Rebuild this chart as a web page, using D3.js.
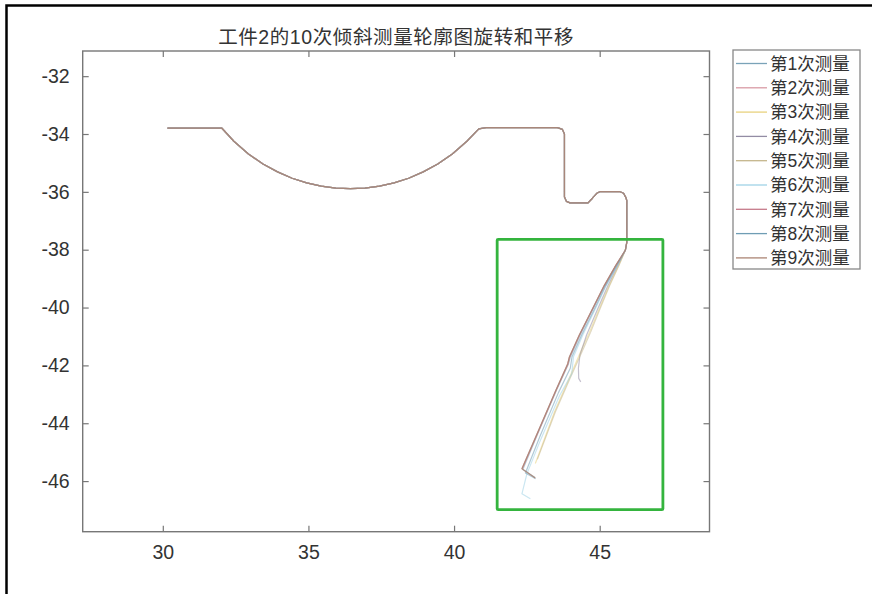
<!DOCTYPE html>
<html>
<head>
<meta charset="utf-8">
<script src="https://cdn.jsdelivr.net/npm/d3@7"></script>
<style>
  html, body { margin: 0; padding: 0; background: #fff; }
  svg { display: block; }
  .tick text { font-family: "Liberation Sans", Arial, sans-serif; font-size: 19.5px; fill: #333; }
  .cjk { font-family: "Liberation Sans", "Noto Sans CJK SC", sans-serif; fill: #333; }
</style>
</head>
<body>
<div id="chart"></div>
<script>
// Nine tilted measurements of one part profile, rotated and shifted so the
// upper profile coincides; only the lower slanted flank keeps spreading.
var TITLE = "工件2的10次倾斜测量轮廓图旋转和平移";
var NAMES = ["第1次测量", "第2次测量", "第3次测量", "第4次测量", "第5次测量",
             "第6次测量", "第7次测量", "第8次测量", "第9次测量"];
var COLORS = ["#7aa3b8", "#d99aa4", "#e8d27e", "#938ca4", "#c4b68c",
              "#9fd2e6", "#c67a8a", "#6f9db4", "#ab8574"];

var xTicks = [30, 35, 40, 45];
var yTicks = [-46, -44, -42, -40, -38, -36, -34, -32];
var xDomain = [27.25, 48.77];
var yDomain = [-47.75, -31.13];

// shared part of every profile: flat, arc, step, bump, down to the flank
var profX = [30.16, 32.03, 32.44, 32.94, 33.44, 33.94, 34.44, 34.94, 35.44, 35.94,
             36.44, 36.94, 37.44, 37.94, 38.44, 38.94, 39.44, 39.94, 40.44, 40.85,
             41.10, 43.55, 43.72, 43.79, 43.79, 43.86, 43.98, 44.60, 44.75, 44.90,
             45.02, 45.68, 45.82, 45.90, 45.93, 45.93, 45.88];
var profY = [-33.80, -33.80, -34.25, -34.69, -35.04, -35.31, -35.53, -35.69, -35.80, -35.87,
             -35.89, -35.87, -35.80, -35.69, -35.53, -35.31, -35.04, -34.69, -34.25, -33.82,
             -33.78, -33.78, -33.84, -34.00, -36.18, -36.33, -36.38, -36.38, -36.22, -36.05,
             -35.99, -35.99, -36.05, -36.20, -36.30, -37.75, -38.02];

// lower flank of each measurement (x list, y list)
var tail1X = [45.56, 45.17, 44.77, 44.33, 43.99, 43.92, 43.52, 42.92, 42.36, 42.78];
var tail1Y = [-38.55, -39.25, -40.05, -40.95, -41.72, -41.97, -42.85, -44.25, -45.60, -45.88];
var tail2X = [45.55, 45.15, 44.75, 44.30, 43.96, 43.90, 43.50, 42.90, 42.33];
var tail2Y = [-38.55, -39.25, -40.05, -40.95, -41.71, -41.95, -42.85, -44.25, -45.57];
var tail3X = [45.65, 45.32, 45.00, 44.65, 44.40, 43.95, 43.45, 42.79];
var tail3Y = [-38.55, -39.25, -40.00, -40.85, -41.40, -42.45, -43.60, -45.39];
var tail4X = [45.62, 45.28, 44.93, 44.55, 44.32, 44.27, 44.28, 44.35];
var tail4Y = [-38.55, -39.25, -40.05, -40.95, -41.65, -42.10, -42.45, -42.57];
var tail5X = [45.66, 45.34, 45.03, 44.69, 44.45, 43.98, 43.48, 42.86];
var tail5Y = [-38.55, -39.25, -40.00, -40.85, -41.40, -42.45, -43.60, -45.25];
var tail6X = [45.60, 45.22, 44.85, 44.42, 44.10, 44.04, 43.62, 42.98, 42.50, 42.33, 42.62];
var tail6Y = [-38.55, -39.25, -40.05, -40.95, -41.70, -42.29, -43.05, -44.55, -45.75, -46.44, -46.61];
var tail7X = [45.55, 45.16, 44.76, 44.31, 43.97, 43.91, 43.51, 42.91, 42.34];
var tail7Y = [-38.55, -39.25, -40.05, -40.95, -41.71, -41.96, -42.85, -44.25, -45.58];
var tail8X = [45.59, 45.20, 44.82, 44.38, 44.05, 43.99, 43.58, 42.95, 42.45, 42.80];
var tail8Y = [-38.55, -39.25, -40.05, -40.95, -41.70, -42.10, -42.95, -44.45, -45.72, -45.92];
var tail9X = [45.55, 45.15, 44.75, 44.30, 43.96, 43.90, 43.50, 42.90, 42.33, 42.79];
var tail9Y = [-38.55, -39.25, -40.05, -40.95, -41.71, -41.95, -42.85, -44.25, -45.57, -45.89];

// green region of interest
var boxX = [41.48, 47.17];
var boxY = [-46.99, -37.64];

(function () {
  var W = 872, H = 594;
  var left = 82.7, right = 709.5, top = 51, bottom = 531.7;

  var tailsX = [tail1X, tail2X, tail3X, tail4X, tail5X, tail6X, tail7X, tail8X, tail9X];
  var tailsY = [tail1Y, tail2Y, tail3Y, tail4Y, tail5Y, tail6Y, tail7Y, tail8Y, tail9Y];

  var series = NAMES.map(function (name, i) {
    var xs = profX.concat(tailsX[i]);
    var ys = profY.concat(tailsY[i]);
    return { name: name, color: COLORS[i], pts: xs.map(function (x, k) { return [x, ys[k]]; }) };
  });

  var x = d3.scaleLinear().domain(xDomain).range([left, right]);
  var y = d3.scaleLinear().domain(yDomain).range([bottom, top]);

  var svg = d3.select("#chart").append("svg")
    .attr("width", W).attr("height", H);

  // outer frame of the screenshot (top and left edges only)
  svg.append("path")
    .attr("d", "M6.5," + H + "V5.5H" + W)
    .attr("fill", "none").attr("stroke", "#000").attr("stroke-width", 2.5);

  // -- lines: faint individually; the last one drawn dominates the overlap --
  var line = d3.line()
    .x(function (d) { return x(d[0]); })
    .y(function (d) { return y(d[1]); });

  svg.append("g").selectAll("path")
    .data(series).join("path")
    .attr("d", function (d) { return line(d.pts); })
    .attr("fill", "none")
    .attr("stroke", function (d) { return d.color; })
    .attr("stroke-opacity", function (d, i) { return i === series.length - 1 ? 0.9 : 0.55; })
    .attr("stroke-width", 1.2)
    .attr("stroke-linejoin", "round");

  svg.append("rect")
    .attr("x", x(boxX[0])).attr("y", y(boxY[1]))
    .attr("width", x(boxX[1]) - x(boxX[0]))
    .attr("height", y(boxY[0]) - y(boxY[1]))
    .attr("fill", "none").attr("stroke", "#34b43e").attr("stroke-width", 2.8)
    .attr("rx", 1);

  // -- axes: box with inward ticks on all four sides -------------------------
  var tl = 6;
  function styleAxis(g) {
    g.select(".domain").remove();
    g.selectAll(".tick line").attr("stroke", "#777").attr("stroke-width", 1.2);
  }
  svg.append("g").attr("transform", "translate(0," + bottom + ")")
    .call(d3.axisBottom(x).tickValues(xTicks).tickSize(-tl).tickPadding(11))
    .call(styleAxis)
    .selectAll("text").attr("dy", "0.85em");
  svg.append("g").attr("transform", "translate(0," + top + ")")
    .call(d3.axisTop(x).tickValues(xTicks).tickSize(-tl).tickFormat(""))
    .call(styleAxis);
  svg.append("g").attr("transform", "translate(" + left + ",0)")
    .call(d3.axisLeft(y).tickValues(yTicks).tickSize(-tl).tickPadding(13)
      .tickFormat(function (d) { return "-" + Math.abs(d); }))
    .call(styleAxis);
  svg.append("g").attr("transform", "translate(" + right + ",0)")
    .call(d3.axisRight(y).tickValues(yTicks).tickSize(-tl).tickFormat(""))
    .call(styleAxis);

  svg.append("rect")
    .attr("x", left).attr("y", top)
    .attr("width", right - left).attr("height", bottom - top)
    .attr("fill", "none").attr("stroke", "#777").attr("stroke-width", 1.4);

  svg.append("text")
    .attr("class", "cjk")
    .attr("x", (left + right) / 2).attr("y", 44)
    .attr("text-anchor", "middle")
    .style("font-size", "19.5px")
    .style("letter-spacing", "0.6px")
    .text(TITLE);

  // -- legend --------------------------------------------------------------
  var lg = svg.append("g");
  lg.append("rect")
    .attr("x", 733).attr("y", 50).attr("width", 127).attr("height", 219)
    .attr("fill", "#fff").attr("stroke", "#888").attr("stroke-width", 1.3);

  var item = lg.selectAll("g").data(series).join("g")
    .attr("transform", function (d, i) { return "translate(0," + (63.5 + i * 24.3) + ")"; });
  item.append("line")
    .attr("x1", 736).attr("x2", 767)
    .attr("stroke", function (d) { return d.color; }).attr("stroke-width", 1.3);
  item.append("text")
    .attr("class", "cjk")
    .attr("x", 770).attr("dy", "0.36em")
    .style("font-size", "17.5px")
    .text(function (d) { return d.name; });
})();
</script>
</body>
</html>
